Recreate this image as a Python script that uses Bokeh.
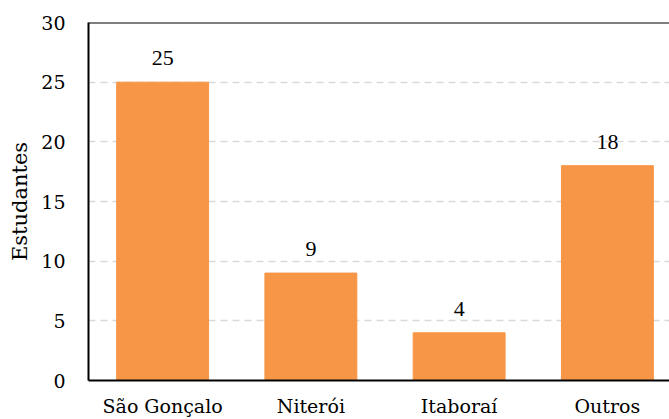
from bokeh.plotting import figure
from bokeh.models import Range1d, FixedTicker, Span, ColumnDataSource, LabelSet
from bokeh.embed import file_html
from bokeh.resources import INLINE

categories = ["São Gonçalo", "Niterói", "Itaboraí", "Outros"]
values = [25, 9, 4, 18]
y_ticks = [0, 5, 10, 15, 20, 25, 30]

xs = [i + 0.5 for i in range(len(categories))]
src = ColumnDataSource(dict(x=xs, top=values, label=[str(v) for v in values]))

FONT = "DejaVu Serif"

p = figure(width=669, height=419, output_backend="svg", toolbar_location=None,
           x_range=Range1d(0, 3.919), y_range=Range1d(0, 30),
           min_border_left=88, min_border_right=0, min_border_top=22, min_border_bottom=38)
p.outline_line_color = None
p.background_fill_color = "white"
p.border_fill_color = "white"

p.vbar(x="x", top="top", width=0.62, bottom=0, source=src, color="#F79646")
p.add_layout(LabelSet(x="x", y="top", text="label", source=src, text_align="center",
                      text_baseline="alphabetic", y_offset=17, text_font=FONT,
                      text_font_size="22px", text_color="black"))

p.add_layout(Span(location=30, dimension="width", line_color="black", line_width=2))

p.xaxis.ticker = FixedTicker(ticks=xs)
p.xaxis.major_label_overrides = {x: c for x, c in zip(xs, categories)}
p.yaxis.ticker = FixedTicker(ticks=y_ticks)

for ax in (p.xaxis, p.yaxis):
    ax.axis_line_color = "black"
    ax.axis_line_width = 2
    ax.major_tick_line_color = None
    ax.minor_tick_line_color = None
    ax.major_label_text_font = FONT
    ax.major_label_text_font_size = "19px"
    ax.major_label_text_color = "black"

p.xaxis.major_label_standoff = 8
p.yaxis.major_label_standoff = 17
p.yaxis.axis_label = "Estudantes"
p.yaxis.axis_label_text_font = FONT
p.yaxis.axis_label_text_font_size = "21px"
p.yaxis.axis_label_text_font_style = "normal"
p.yaxis.axis_label_text_color = "black"
p.yaxis.axis_label_standoff = 6

p.xgrid.grid_line_color = None
p.ygrid.ticker = FixedTicker(ticks=[5, 10, 15, 20, 25])
p.ygrid.grid_line_color = "#d9d9d9"
p.ygrid.grid_line_dash = "7 5"
p.ygrid.grid_line_width = 1.5

open("out.html", "w").write(file_html(p, INLINE))
